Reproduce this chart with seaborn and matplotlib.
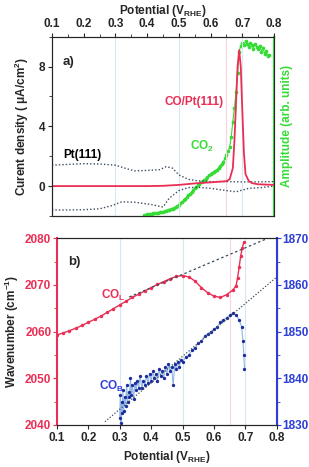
"""plot.py - CO oxidation on Pt(111): current / CO2 amplitude and band positions"""

import matplotlib

matplotlib.use("Agg")
import matplotlib.pyplot as plt
import seaborn as sns
from matplotlib.ticker import MultipleLocator

RED = "#ea2f55"
GREEN = "#35dc35"
BLUE = "#2d3fd8"
DOT = "#3c4c5e"
FS = 8.5

# ---- panel a) data -------------------------------------------------------
pot_co_pt = [0.10, 0.20, 0.30, 0.40, 0.45, 0.50, 0.55, 0.60, 0.65, 0.66, 0.67,
             0.675, 0.68, 0.685, 0.69, 0.695, 0.70, 0.705, 0.71, 0.72, 0.73,
             0.75, 0.80]
cur_co_pt = [0.00, 0.00, 0.00, 0.00, 0.02, 0.08, 0.18, 0.25, 0.33, 0.45, 1.2,
             3.0, 5.5, 8.0, 9.1, 8.0, 5.0, 2.2, 0.8, 0.35, 0.20,
             0.12, 0.08]

pot_pt_up = [0.10, 0.15, 0.20, 0.25, 0.30, 0.33, 0.36, 0.40, 0.44, 0.46, 0.48,
             0.50, 0.53, 0.56, 0.60, 0.65, 0.70, 0.75, 0.80]
cur_pt_up = [1.40, 1.45, 1.50, 1.48, 1.40, 1.20, 1.02, 1.05, 1.10, 1.30, 1.20,
             0.75, 0.45, 0.35, 0.30, 0.30, 0.28, 0.28, 0.30]

pot_pt_dn = [0.10, 0.15, 0.20, 0.25, 0.29, 0.32, 0.36, 0.41, 0.45, 0.47, 0.50,
             0.53, 0.56, 0.60, 0.65, 0.68, 0.72, 0.76, 0.80]
cur_pt_dn = [-1.60, -1.60, -1.58, -1.52, -1.30, -1.05, -1.08, -1.22, -1.40,
             -0.80, -0.30, -0.10, -0.08, -0.15, -0.30, -0.38, -0.15, -0.10, 0.00]

pot_co2 = [0.39, 0.395, 0.40, 0.405, 0.41, 0.415, 0.42, 0.425, 0.43, 0.435,
           0.44, 0.445, 0.45, 0.455, 0.46, 0.465, 0.47, 0.475, 0.48, 0.485,
           0.49, 0.495, 0.50, 0.505, 0.51, 0.515, 0.52, 0.525, 0.53, 0.535,
           0.54, 0.545, 0.55, 0.555, 0.56, 0.565, 0.57, 0.575, 0.58, 0.585,
           0.59, 0.595, 0.60, 0.605, 0.61, 0.615, 0.62, 0.625, 0.63, 0.635,
           0.64, 0.645, 0.65, 0.655, 0.66, 0.665, 0.67, 0.675, 0.68, 0.685,
           0.69, 0.695, 0.70, 0.705, 0.71, 0.715, 0.72, 0.725, 0.73, 0.735,
           0.74, 0.745, 0.75, 0.755, 0.76, 0.765, 0.77, 0.775, 0.78, 0.785]
amp_co2 = [-1.95, -1.92, -1.90, -1.86, -1.85, -1.84, -1.82, -1.80, -1.80,
           -1.77, -1.76, -1.72, -1.70, -1.68, -1.66, -1.60, -1.58, -1.55,
           -1.50, -1.44, -1.38, -1.32, -1.25, -1.15, -1.05, -0.95, -0.85,
           -0.72, -0.60, -0.50, -0.40, -0.28, -0.15, -0.05, 0.05, 0.15, 0.25,
           0.32, 0.40, 0.50, 0.60, 0.72, 0.80, 0.86, 0.95, 1.02, 1.10, 1.22,
           1.35, 1.48, 1.60, 1.85, 2.10, 2.35, 2.60, 3.30, 4.30, 5.20, 6.30,
           7.60, 9.00, 9.40, 9.60, 9.45, 9.70, 9.50, 9.30, 9.55, 9.45, 9.20,
           9.50, 9.30, 9.15, 9.40, 9.00, 9.25, 8.85, 9.05, 8.70, 8.80]

# ---- panel b) data -------------------------------------------------------
pot_col = [0.10, 0.12, 0.14, 0.16, 0.18, 0.20, 0.22, 0.24, 0.26, 0.28, 0.30,
           0.32, 0.34, 0.36, 0.38, 0.40, 0.42, 0.44, 0.46, 0.48, 0.50, 0.52,
           0.54, 0.56, 0.58, 0.60, 0.62, 0.64, 0.66, 0.67, 0.675, 0.68, 0.685,
           0.69, 0.695]
wn_col = [2059.3, 2059.7, 2060.2, 2060.7, 2061.3, 2062.0, 2062.6, 2063.3,
          2064.1, 2064.9, 2065.7, 2066.5, 2067.3, 2068.0, 2068.7, 2069.4,
          2070.1, 2070.7, 2071.3, 2071.8, 2072.0, 2071.7, 2070.8, 2069.4,
          2068.3, 2067.6, 2067.3, 2067.9, 2068.9, 2069.8, 2071.5, 2073.8,
          2076.2, 2077.9, 2079.2]

pot_cob = [0.300, 0.302, 0.304, 0.306, 0.308, 0.310, 0.313, 0.316, 0.319,
           0.322, 0.325, 0.328, 0.331, 0.334, 0.337, 0.340, 0.344, 0.348,
           0.352, 0.356, 0.360, 0.365, 0.370, 0.375, 0.380, 0.385, 0.390,
           0.395, 0.400, 0.405, 0.410, 0.415, 0.420, 0.425, 0.430, 0.435,
           0.440, 0.445, 0.450, 0.455, 0.460, 0.465, 0.470, 0.475, 0.480,
           0.485, 0.490, 0.495, 0.500, 0.510, 0.520, 0.530, 0.540, 0.550,
           0.560, 0.570, 0.580, 0.590, 0.600, 0.610, 0.620, 0.630, 0.640,
           0.650, 0.660, 0.670, 0.680, 0.688, 0.692, 0.695, 0.697]
wn_cob = [1831.5, 1836.5, 1830.5, 1835.0, 1832.5, 1837.5, 1833.0, 1836.0,
          1834.0, 1838.5, 1835.0, 1837.0, 1836.0, 1840.0, 1836.5, 1838.5,
          1835.5, 1839.0, 1837.5, 1839.5, 1838.0, 1840.5, 1838.0, 1839.5,
          1838.5, 1840.5, 1839.0, 1841.0, 1839.5, 1841.5, 1840.0, 1841.0,
          1839.5, 1842.0, 1840.5, 1841.5, 1840.0, 1842.5, 1841.0, 1843.0,
          1841.5, 1842.5, 1838.5, 1843.0, 1842.0, 1843.5, 1842.5, 1844.0,
          1843.5, 1844.5, 1845.0, 1846.0, 1846.5, 1847.5, 1848.0, 1849.0,
          1849.5, 1850.0, 1850.5, 1851.0, 1852.0, 1852.5, 1853.0, 1853.5,
          1854.0, 1853.5, 1852.5, 1851.0, 1848.0, 1845.0, 1842.0]

# linear guides (dashed) drawn in panel b
fit_col_pot = [0.33, 0.80]
fit_col_wn = [2067.4, 2080.8]
fit_cob_pot = [0.253, 0.80]
fit_cob_wn = [1830.7, 1861.7]

guide_pots = [0.3, 0.5, 0.65, 0.7]
guide_cols = ["#d9e8f0", "#d9e8f0", "#f8d2de", "#d9e8f0"]

sns.set_style("ticks")
plt.rcParams["font.family"] = ["Liberation Sans", "DejaVu Sans"]
plt.rcParams["font.weight"] = "bold"
plt.rcParams["axes.labelweight"] = "bold"
plt.rcParams["mathtext.fontset"] = "custom"
plt.rcParams["mathtext.rm"] = "Liberation Sans:bold"
plt.rcParams["mathtext.bf"] = "Liberation Sans:bold"
plt.rcParams["mathtext.default"] = "bf"
plt.rcParams["font.size"] = FS

fig = plt.figure(figsize=(3.09, 4.67), dpi=100)

# ---------------- panel a ----------------
ax1 = fig.add_axes([0.168, 0.5375, 0.719, 0.384])
for p, c in zip(guide_pots, guide_cols):
    ax1.axvline(p, color=c, lw=0.8, zorder=0)
sns.lineplot(x=pot_pt_up, y=cur_pt_up, ax=ax1, color=DOT, lw=1.0,
             linestyle=(0, (1, 1.5)), sort=False, estimator=None)
sns.lineplot(x=pot_pt_dn, y=cur_pt_dn, ax=ax1, color=DOT, lw=1.0,
             linestyle=(0, (1, 1.5)), sort=False, estimator=None)
sns.lineplot(x=pot_co_pt, y=cur_co_pt, ax=ax1, color=RED, lw=1.3,
             sort=False, estimator=None)
ax1.set_xlim(0.1, 0.8)
ax1.set_ylim(-2, 10.0)
ax1.xaxis.set_major_locator(MultipleLocator(0.1))
ax1.xaxis.set_minor_locator(MultipleLocator(0.05))
ax1.xaxis.tick_top()
ax1.xaxis.set_label_position("top")
ax1.tick_params(axis="x", which="both", direction="out", length=3,
                labelsize=FS, pad=2)
ax1.tick_params(axis="x", which="minor", length=2)
ax1.yaxis.set_major_locator(MultipleLocator(4))
ax1.yaxis.set_minor_locator(MultipleLocator(2))
ax1.set_yticks([0, 4, 8])
ax1.tick_params(axis="y", which="major", length=3, labelsize=FS, pad=2)
ax1.tick_params(axis="y", which="minor", length=2)
ax1.set_xticklabels([f"{v:.1f}" for v in ax1.get_xticks()])
ax1.set_xlabel(r"Potential (V$_{RHE}$)", fontsize=FS, labelpad=3)
ax1.set_ylabel("Curent density ( μA/cm$^2$)", fontsize=FS, labelpad=5)

ax1r = ax1.twinx()
sns.scatterplot(x=pot_co2, y=amp_co2, ax=ax1r, color=GREEN, s=7,
                edgecolor=GREEN, linewidth=0, zorder=3)
sns.lineplot(x=pot_co2, y=amp_co2, ax=ax1r, color=GREEN, lw=0.8,
             sort=False, estimator=None)
ax1r.set_ylim(-2, 10.0)
ax1r.set_yticks([])
ax1r.spines["right"].set_color(GREEN)
ax1r.spines["right"].set_linewidth(1.5)
ax1r.set_ylabel("Amplitude (arb. units)", color=GREEN, fontsize=FS,
                labelpad=5)
ax1.set_zorder(ax1r.get_zorder() + 1)
ax1.patch.set_visible(False)

ax1.text(0.135, 8.1, "a)", fontsize=FS + 1, fontweight="bold")
ax1.text(0.455, 5.4, "CO/Pt(111)", color=RED, fontsize=FS)
ax1.text(0.535, 2.4, "CO$_2$", color=GREEN, fontsize=FS)
ax1.text(0.135, 1.9, "Pt(111)", color="black", fontsize=FS)

# ---------------- panel b ----------------
ax2 = fig.add_axes([0.184, 0.09, 0.712, 0.4])
for p, c in zip(guide_pots, guide_cols):
    ax2.axvline(p, color=c, lw=0.8, zorder=0)
sns.lineplot(x=pot_col, y=wn_col, ax=ax2, color=RED, lw=1.0, marker="o",
             markersize=2.5, markeredgewidth=0, sort=False, estimator=None)
sns.lineplot(x=fit_col_pot, y=fit_col_wn, ax=ax2, color=DOT, lw=0.9,
             linestyle=(0, (2, 2)), sort=False, estimator=None)
ax2.set_xlim(0.1, 0.8)
ax2.set_ylim(2040, 2080)
ax2.xaxis.set_major_locator(MultipleLocator(0.1))
ax2.yaxis.set_major_locator(MultipleLocator(10))
ax2.yaxis.set_minor_locator(MultipleLocator(5))
ax2.tick_params(axis="x", length=3, labelsize=FS, pad=2)
ax2.tick_params(axis="y", which="major", length=3, labelsize=FS, pad=1,
                colors=RED)
ax2.tick_params(axis="y", which="minor", length=2, colors=RED)
ax2.set_xticklabels([f"{v:.1f}" for v in ax2.get_xticks()])
ax2.spines["left"].set_color(RED)
ax2.spines["left"].set_linewidth(1.5)
ax2.set_xlabel(r"Potential (V$_{RHE}$)", fontsize=FS, labelpad=4)
ax2.set_ylabel("Wavenumber (cm$^{-1}$)", fontsize=FS, labelpad=3)

ax2r = ax2.twinx()
sns.lineplot(x=pot_cob, y=wn_cob, ax=ax2r, color="#8fb6e6", lw=0.8,
             marker="o", markersize=2.4, markerfacecolor="#1c2c9a",
             markeredgewidth=0, sort=False, estimator=None)
sns.lineplot(x=fit_cob_pot, y=fit_cob_wn, ax=ax2r, color=DOT, lw=0.9,
             linestyle=(0, (1, 1.5)), sort=False, estimator=None)
ax2r.set_ylim(1830, 1870)
ax2r.yaxis.set_major_locator(MultipleLocator(10))
ax2r.yaxis.set_minor_locator(MultipleLocator(5))
ax2r.tick_params(axis="y", which="major", length=3, labelsize=FS, pad=1,
                 colors=BLUE)
ax2r.tick_params(axis="y", which="minor", length=2, colors=BLUE)
ax2r.spines["right"].set_color(BLUE)
ax2r.spines["right"].set_linewidth(1.5)
ax2r.spines["left"].set_visible(False)

ax2.text(0.135, 2074.2, "b)", fontsize=FS + 1, fontweight="bold")
ax2.text(0.24, 2067.0, "CO$_L$", color=RED, fontsize=FS)
ax2r.text(0.235, 1837.5, "CO$_B$", color=BLUE, fontsize=FS)

fig.savefig("out.png", dpi=100)
